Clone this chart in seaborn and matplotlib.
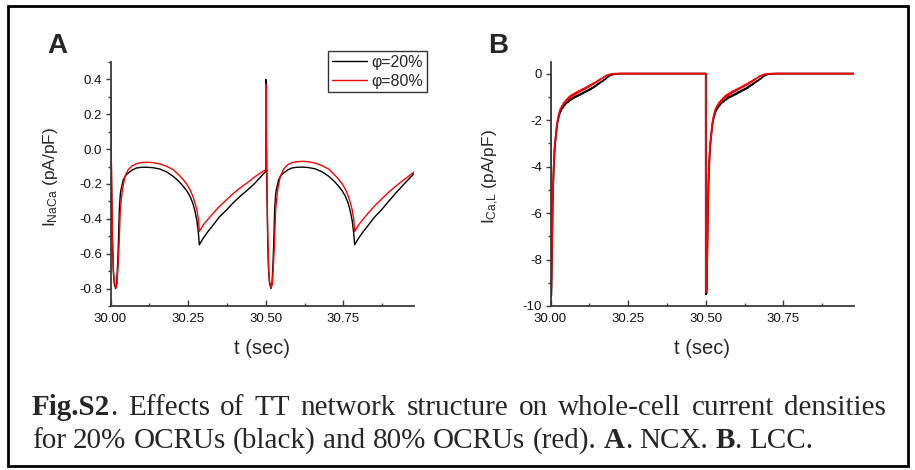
import matplotlib
matplotlib.use("Agg")
import matplotlib.pyplot as plt
import matplotlib.ticker as mticker
from matplotlib.lines import Line2D
from matplotlib.patches import Rectangle
from matplotlib.transforms import IdentityTransform
import pandas as pd
import seaborn as sns

# ---------------- data ----------------
labels = ["φ=20%", "φ=80%"]
colors = ["black", "red"]

# Panel A: NCX current (pA/pF)
t_a20 = [30.000, 30.003, 30.006, 30.009, 30.012, 30.0165, 30.020, 30.023, 30.0252, 30.0284,
         30.0315, 30.0338, 30.0413, 30.050, 30.057, 30.070, 30.084, 30.100, 30.1165, 30.135,
         30.159, 30.180, 30.202, 30.220, 30.234, 30.246, 30.256, 30.265, 30.272, 30.278,
         30.283, 30.286, 30.292, 30.299, 30.315, 30.331, 30.350, 30.374, 30.395, 30.417,
         30.440, 30.460, 30.480, 30.4999,
         30.500, 30.503, 30.506, 30.509, 30.512, 30.5165, 30.520, 30.523, 30.5252, 30.5284,
         30.5315, 30.5338, 30.5413, 30.550, 30.557, 30.570, 30.584, 30.600, 30.6165, 30.635,
         30.659, 30.680, 30.702, 30.720, 30.734, 30.746, 30.756, 30.765, 30.772, 30.778,
         30.783, 30.786, 30.792, 30.799, 30.815, 30.831, 30.850, 30.874, 30.895, 30.917,
         30.940, 30.960, 30.977]
i_a20 = [0.37, -0.15, -0.52, -0.70, -0.77, -0.80, -0.77, -0.66, -0.558, -0.348,
         -0.26, -0.233, -0.175, -0.148, -0.137, -0.120, -0.108, -0.104, -0.104, -0.106,
         -0.114, -0.130, -0.156, -0.185, -0.213, -0.240, -0.271, -0.310, -0.357, -0.410,
         -0.482, -0.549, -0.530, -0.510, -0.470, -0.434, -0.390, -0.348, -0.308, -0.271,
         -0.236, -0.204, -0.166, -0.127,
         0.40, -0.15, -0.52, -0.70, -0.77, -0.80, -0.77, -0.66, -0.558, -0.348,
         -0.26, -0.233, -0.175, -0.148, -0.137, -0.120, -0.108, -0.104, -0.103, -0.105,
         -0.113, -0.129, -0.155, -0.184, -0.212, -0.240, -0.270, -0.310, -0.357, -0.410,
         -0.482, -0.549, -0.530, -0.510, -0.470, -0.434, -0.390, -0.345, -0.300, -0.255,
         -0.210, -0.172, -0.141]

t_a80 = [30.000, 30.003, 30.006, 30.009, 30.012, 30.017, 30.021, 30.024, 30.0274, 30.0316,
         30.0381, 30.0467, 30.057, 30.070, 30.084, 30.100, 30.1165, 30.135, 30.159, 30.180,
         30.202, 30.220, 30.234, 30.246, 30.256, 30.265, 30.272, 30.278, 30.283, 30.286,
         30.292, 30.299, 30.315, 30.331, 30.350, 30.374, 30.395, 30.417, 30.440, 30.460,
         30.480, 30.4999,
         30.500, 30.503, 30.506, 30.509, 30.512, 30.517, 30.521, 30.524, 30.5274, 30.5316,
         30.5381, 30.5467, 30.557, 30.570, 30.584, 30.600, 30.6165, 30.635, 30.659, 30.680,
         30.702, 30.720, 30.734, 30.746, 30.756, 30.765, 30.772, 30.778, 30.783, 30.786,
         30.792, 30.799, 30.815, 30.831, 30.850, 30.874, 30.895, 30.917, 30.940, 30.960,
         30.977]
i_a80 = [0.37, -0.10, -0.48, -0.68, -0.76, -0.797, -0.77, -0.68, -0.558, -0.348,
         -0.233, -0.156, -0.118, -0.095, -0.083, -0.077, -0.0755, -0.077, -0.085, -0.098,
         -0.118, -0.148, -0.175, -0.203, -0.233, -0.270, -0.309, -0.350, -0.405, -0.472,
         -0.455, -0.434, -0.400, -0.367, -0.330, -0.290, -0.255, -0.223, -0.193, -0.165,
         -0.140, -0.118,
         0.37, -0.10, -0.48, -0.68, -0.76, -0.797, -0.77, -0.68, -0.558, -0.348,
         -0.233, -0.156, -0.115, -0.090, -0.078, -0.072, -0.070, -0.072, -0.080, -0.094,
         -0.114, -0.145, -0.172, -0.200, -0.230, -0.268, -0.307, -0.348, -0.403, -0.472,
         -0.455, -0.434, -0.398, -0.364, -0.326, -0.284, -0.248, -0.214, -0.182, -0.155,
         -0.131]

# Panel B: LCC current (pA/pF)
t_b20 = [30.000, 30.0001, 30.0027, 30.0045, 30.0070, 30.0090, 30.0113, 30.0140, 30.0177, 30.0210,
         30.0253, 30.028, 30.031, 30.034, 30.037, 30.040, 30.043, 30.046, 30.049, 30.052,
         30.055, 30.058, 30.061, 30.064, 30.067, 30.070, 30.073, 30.076, 30.079, 30.082,
         30.085, 30.088, 30.091, 30.094, 30.097, 30.100, 30.103, 30.106, 30.109, 30.112,
         30.115, 30.118, 30.121, 30.124, 30.127, 30.130, 30.133, 30.136, 30.139, 30.142,
         30.145, 30.148, 30.151, 30.154, 30.157, 30.160, 30.164, 30.168, 30.172, 30.176,
         30.181, 30.186, 30.192, 30.200, 30.215, 30.230, 30.4999,
         30.500, 30.5001, 30.5027, 30.5045, 30.5070, 30.5090, 30.5113, 30.5140, 30.5177, 30.5210,
         30.5253, 30.528, 30.531, 30.534, 30.537, 30.540, 30.543, 30.546, 30.549, 30.552,
         30.555, 30.558, 30.561, 30.564, 30.567, 30.570, 30.573, 30.576, 30.579, 30.582,
         30.585, 30.588, 30.591, 30.594, 30.597, 30.600, 30.603, 30.606, 30.609, 30.612,
         30.615, 30.618, 30.621, 30.624, 30.627, 30.630, 30.633, 30.636, 30.639, 30.642,
         30.645, 30.648, 30.651, 30.654, 30.657, 30.660, 30.664, 30.668, 30.672, 30.676,
         30.681, 30.686, 30.692, 30.700, 30.715, 30.730, 30.977]
i_b20 = [0.0, -9.60, -9.55, -7.80, -5.60, -4.60, -3.80, -3.12, -2.62, -2.22,
         -1.92, -1.80, -1.66, -1.60, -1.50, -1.47, -1.38, -1.36, -1.28, -1.27,
         -1.20, -1.22, -1.13, -1.15, -1.07, -1.10, -1.02, -1.05, -0.98, -1.01,
         -0.94, -0.97, -0.91, -0.93, -0.86, -0.89, -0.82, -0.85, -0.78, -0.80,
         -0.74, -0.76, -0.70, -0.72, -0.66, -0.68, -0.61, -0.63, -0.56, -0.57,
         -0.51, -0.52, -0.45, -0.46, -0.40, -0.40, -0.34, -0.33, -0.27, -0.25,
         -0.18, -0.13, -0.08, -0.04, -0.01, 0.0, 0.0,
         0.0, -9.50, -9.45, -7.75, -5.55, -4.55, -3.75, -3.10, -2.60, -2.20,
         -1.90, -1.78, -1.64, -1.58, -1.49, -1.45, -1.37, -1.35, -1.27, -1.25,
         -1.19, -1.21, -1.12, -1.14, -1.06, -1.08, -1.01, -1.03, -0.97, -0.99,
         -0.93, -0.95, -0.89, -0.91, -0.85, -0.87, -0.80, -0.83, -0.76, -0.78,
         -0.72, -0.74, -0.68, -0.70, -0.64, -0.66, -0.59, -0.61, -0.54, -0.55,
         -0.49, -0.50, -0.43, -0.44, -0.38, -0.38, -0.32, -0.31, -0.25, -0.23,
         -0.16, -0.11, -0.07, -0.03, -0.01, 0.0, 0.0]

t_b80 = [30.000, 30.0001, 30.0027, 30.0045, 30.0070, 30.0090, 30.0113, 30.0140, 30.0177, 30.0210,
         30.0253, 30.028, 30.031, 30.034, 30.037, 30.040, 30.043, 30.046, 30.049, 30.052,
         30.055, 30.058, 30.061, 30.064, 30.067, 30.070, 30.073, 30.076, 30.079, 30.082,
         30.085, 30.088, 30.091, 30.094, 30.097, 30.100, 30.103, 30.106, 30.109, 30.112,
         30.115, 30.118, 30.121, 30.124, 30.127, 30.130, 30.133, 30.136, 30.139, 30.142,
         30.145, 30.148, 30.151, 30.154, 30.157, 30.160, 30.164, 30.168, 30.172, 30.176,
         30.181, 30.186, 30.192, 30.200, 30.215, 30.230, 30.4999,
         30.500, 30.5001, 30.5027, 30.5045, 30.5070, 30.5090, 30.5113, 30.5140, 30.5177, 30.5210,
         30.5253, 30.528, 30.531, 30.534, 30.537, 30.540, 30.543, 30.546, 30.549, 30.552,
         30.555, 30.558, 30.561, 30.564, 30.567, 30.570, 30.573, 30.576, 30.579, 30.582,
         30.585, 30.588, 30.591, 30.594, 30.597, 30.600, 30.603, 30.606, 30.609, 30.612,
         30.615, 30.618, 30.621, 30.624, 30.627, 30.630, 30.633, 30.636, 30.639, 30.642,
         30.645, 30.648, 30.651, 30.654, 30.657, 30.660, 30.664, 30.668, 30.672, 30.676,
         30.681, 30.686, 30.692, 30.700, 30.715, 30.730, 30.977]
i_b80 = [0.0, -9.30, -9.25, -7.60, -5.44, -4.50, -3.71, -3.05, -2.56, -2.15,
         -1.84, -1.70, -1.55, -1.48, -1.38, -1.35, -1.25, -1.26, -1.15, -1.18,
         -1.06, -1.10, -0.98, -1.04, -0.92, -0.99, -0.88, -0.93, -0.83, -0.88,
         -0.78, -0.84, -0.74, -0.79, -0.70, -0.74, -0.66, -0.70, -0.62, -0.66,
         -0.58, -0.61, -0.53, -0.57, -0.49, -0.52, -0.45, -0.47, -0.40, -0.42,
         -0.36, -0.37, -0.31, -0.32, -0.26, -0.26, -0.21, -0.19, -0.14, -0.12,
         -0.08, -0.05, -0.03, -0.01, 0.0, 0.0, 0.0,
         0.0, -9.40, -9.35, -7.65, -5.50, -4.52, -3.72, -3.06, -2.55, -2.14,
         -1.82, -1.68, -1.53, -1.46, -1.37, -1.33, -1.24, -1.25, -1.14, -1.16,
         -1.05, -1.08, -0.97, -1.02, -0.91, -0.97, -0.86, -0.91, -0.81, -0.86,
         -0.76, -0.82, -0.72, -0.77, -0.68, -0.72, -0.64, -0.68, -0.60, -0.64,
         -0.56, -0.59, -0.51, -0.55, -0.47, -0.50, -0.43, -0.45, -0.38, -0.40,
         -0.34, -0.35, -0.29, -0.30, -0.24, -0.24, -0.19, -0.17, -0.12, -0.10,
         -0.07, -0.04, -0.02, -0.01, 0.0, 0.0, 0.0]

xticks = [30.00, 30.25, 30.50, 30.75]
a_yticks = [0.4, 0.2, 0.0, -0.2, -0.4, -0.6, -0.8]
b_yticks = [0, -2, -4, -6, -8, -10]

caption_line1 = [[("Fig.S2", "bold"), (".", "normal")], [("Effects", "normal")], [("of", "normal")],
                 [("TT", "normal")], [("network", "normal")], [("structure", "normal")],
                 [("on", "normal")], [("whole-cell", "normal")], [("current", "normal")],
                 [("densities", "normal")]]
caption_line2 = [[("for", "normal")], [("20%", "normal")], [("OCRUs", "normal")], [("(black)", "normal")],
                 [("and", "normal")], [("80%", "normal")], [("OCRUs", "normal")], [("(red).", "normal")],
                 [("A", "bold"), (".", "normal")], [("NCX.", "normal")],
                 [("B", "bold"), (".", "normal")], [("LCC.", "normal")]]

# ---------------- style ----------------
sns.set_style("ticks")
plt.rcParams["font.family"] = ["Liberation Sans", "DejaVu Sans"]
plt.rcParams["axes.unicode_minus"] = False
plt.rcParams["mathtext.default"] = "regular"

W, H = 915, 470
fig = plt.figure(figsize=(W / 100, H / 100), dpi=100)
fig.patch.set_facecolor("white")

def fx(px):
    return px / W

def fy(py):
    return (H - py) / H

ax_a = fig.add_axes([fx(110.5), fy(306), fx(414) - fx(110.5), fy(62) - fy(306)])
ax_b = fig.add_axes([fx(550.5), fy(306), fx(854) - fx(550.5), fy(62) - fy(306)])

df_a = pd.concat([
    pd.DataFrame({"t": t_a20, "I": i_a20, "grp": labels[0]}),
    pd.DataFrame({"t": t_a80, "I": i_a80, "grp": labels[1]}),
], ignore_index=True)
df_b = pd.concat([
    pd.DataFrame({"t": t_b20, "I": i_b20, "grp": labels[0]}),
    pd.DataFrame({"t": t_b80, "I": i_b80, "grp": labels[1]}),
], ignore_index=True)

pal = dict(zip(labels, colors))
sns.lineplot(data=df_a, x="t", y="I", hue="grp", hue_order=labels, palette=pal,
             estimator=None, sort=False, legend=False, linewidth=1.0, ax=ax_a)
sns.lineplot(data=df_b, x="t", y="I", hue="grp", hue_order=labels, palette=pal,
             estimator=None, sort=False, legend=False, linewidth=1.3, ax=ax_b)

spine_col = "#3a3a3a"
for ax in (ax_a, ax_b):
    ax.set_facecolor("white")
    ax.set_xlim(30.0, 30.977)
    ax.spines["top"].set_visible(False)
    ax.spines["right"].set_visible(False)
    for s in ("left", "bottom"):
        ax.spines[s].set_color(spine_col)
        ax.spines[s].set_linewidth(1.3)
    ax.set_xticks(xticks)
    ax.xaxis.set_major_formatter(mticker.FormatStrFormatter("%.2f"))
    ax.xaxis.set_minor_locator(mticker.MultipleLocator(0.125))
    ax.tick_params(axis="x", which="major", direction="in", length=4.5, width=1.0,
                   color=spine_col, labelsize=9.5, pad=5, labelcolor="#111111")
    ax.tick_params(axis="x", which="minor", direction="in", length=2.5, width=1.0, color=spine_col)
    ax.tick_params(axis="y", which="major", direction="out", length=3.5, width=1.0,
                   color=spine_col, labelsize=9.5, pad=2.5, labelcolor="#111111")
    ax.tick_params(axis="y", which="minor", direction="out", length=2.0, width=1.0, color=spine_col)
    ax.set_xlabel("t (sec)", fontsize=14.5)
    ax.xaxis.set_label_coords(0.5, -0.135)

ax_a.set_ylim(-0.9, 0.5)
ax_a.set_yticks(a_yticks)
ax_a.yaxis.set_major_formatter(mticker.FormatStrFormatter("%.1f"))
ax_a.yaxis.set_minor_locator(mticker.MultipleLocator(0.1))
ax_a.set_ylabel(r"$\mathregular{I_{NaCa}}$ (pA/pF)", fontsize=12.5)
ax_a.yaxis.set_label_coords(-0.165, 0.53)

ax_b.set_ylim(-10, 0.5)
ax_b.set_yticks(b_yticks)
ax_b.yaxis.set_major_formatter(mticker.FormatStrFormatter("%d"))
ax_b.yaxis.set_minor_locator(mticker.MultipleLocator(1))
ax_b.set_ylabel(r"$\mathregular{I_{Ca{,}L}}$ (pA/pF)", fontsize=12.5)
ax_b.yaxis.set_label_coords(-0.162, 0.53)

handles = [Line2D([], [], color=c, lw=1.0) for c in colors]
leg = ax_a.legend(handles, labels, loc="upper right", bbox_to_anchor=(fx(427), fy(51)),
                  bbox_transform=fig.transFigure, frameon=True, fancybox=False,
                  edgecolor="#333333", framealpha=1, fontsize=11.5, handlelength=2.2,
                  handletextpad=0.3, borderpad=0.22, labelspacing=0.25, borderaxespad=0)
leg.get_frame().set_linewidth(1.0)

fig.text(fx(47), fy(53), "A", fontsize=20, fontweight="bold", va="baseline", ha="left")
fig.text(fx(488), fy(53), "B", fontsize=20, fontweight="bold", va="baseline", ha="left")

# outer border
fig.patches.append(Rectangle((fx(8), fy(466)), fx(908) - fx(8), fy(6) - fy(466),
                             transform=fig.transFigure, fill=False, lw=2.0, ec="black"))

# ---------------- caption ----------------
SERIF = "Liberation Serif"
renderer = fig.canvas.get_renderer()

def seg_width(s, size, weight):
    t = fig.text(0, 0, s, fontsize=size, fontweight=weight, family=SERIF)
    w = t.get_window_extent(renderer).width
    t.remove()
    return w

def word_width(word, size):
    return sum(seg_width(s, size, w) for s, w in word)

def space_width(size):
    return seg_width("x x", size, "normal") - seg_width("xx", size, "normal")

def line_width(words, size):
    return sum(word_width(w, size) for w in words) + space_width(size) * (len(words) - 1)

base = 18.0
target2 = 813 - 32
size = base * target2 / line_width(caption_line2, base)

def draw_word(x, y, word, size):
    for s, w in word:
        t = fig.text(x, y, s, fontsize=size, fontweight=w, family=SERIF,
                     transform=IdentityTransform(), va="baseline", ha="left")
        x += t.get_window_extent(renderer).width
    return x

# line 1 justified between x=32 and x=886
x0, x1 = 32, 886
ww = [word_width(w, size) for w in caption_line1]
gap = (x1 - x0 - sum(ww)) / (len(caption_line1) - 1)
x = x0
for w, wd in zip(caption_line1, ww):
    draw_word(x, H - 415, w, size)
    x += wd + gap

# line 2 left aligned
sp = space_width(size)
x = x0
for w in caption_line2:
    x = draw_word(x, H - 448, w, size) + sp

fig.savefig("out.png", dpi=100)
